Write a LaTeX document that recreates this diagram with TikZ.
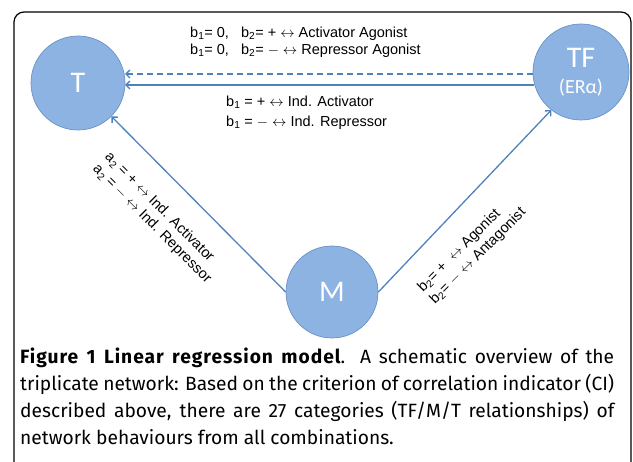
\documentclass[tikz,border=0pt]{standalone}
\usepackage{fontspec}
\setmainfont{Liberation Sans}
\newfontfamily\capfont{Fira Sans}
\newfontfamily\circfont{Carlito}
\usetikzlibrary{arrows.meta}
\definecolor{cfill}{HTML}{8DB3E2}
\definecolor{cdraw}{HTML}{6A92C8}
\definecolor{lblue}{HTML}{4F81BD}
\tikzset{
  circnode/.style={circle,fill=cfill,draw=cdraw,line width=0.7pt,minimum size=#1,inner sep=0pt,text=white,font=\circfont\fontsize{30}{30}\selectfont},
  conn/.style={draw=lblue,line width=1.3pt,-{Straight Barb[length=4pt,width=8pt]}},
  lbl/.style={font=\fontsize{14.5}{17}\selectfont,align=left,inner sep=0pt},
}
\begin{document}
\begin{tikzpicture}[x=1pt,y=-1pt]
\useasboundingbox (0,0) rectangle (633,462);
\begin{scope}
\clip (0,0) rectangle (633,462);
\draw[line width=1.2pt,rounded corners=10pt] (14,480) -- (14,12) -- (631,12) -- (631,480);
\end{scope}
\node[circnode=94pt] (T) at (78,83) {T};
\node[circnode=96pt,align=center] (TF) at (581,72) {TF\\[-4pt]{\fontsize{20}{22}\selectfont(ERα)}};
\node[circnode=92pt] (M) at (332,292) {M};
\coordinate (tfd) at (533,74);
\coordinate (td) at (125,74);
\coordinate (tfs) at (534,85);
\coordinate (ts) at (125,85);
\draw[conn,dashed,dash pattern=on 6pt off 4pt] (tfd) -- (td);
\draw[conn] (tfs) -- (ts);
\draw[conn] (M.west) -- (T.-45);
\draw[conn] (M.east) -- (TF.-128);
\node[lbl,anchor=west] (top) at (190,42) {b\textsubscript{1}= 0,\ \ \ b\textsubscript{2}= + \(\leftrightarrow\) Activator Agonist\\b\textsubscript{1}= 0,\ \ \ b\textsubscript{2}= \(-\) \(\leftrightarrow\) Repressor Agonist};
\node[lbl,anchor=west,font=\fontsize{14.5}{20}\selectfont] (mid) at (226,113) {b\textsubscript{1} = + \(\leftrightarrow\) Ind. Activator\\b\textsubscript{1} = \(-\) \(\leftrightarrow\) Ind. Repressor};
\node[lbl,rotate=-45] (left) at (158,218) {a\textsubscript{2} = + \(\leftrightarrow\) Ind. Activator\\a\textsubscript{2} = \(-\) \(\leftrightarrow\) Ind. Repressor};
\node[lbl,rotate=45] (right) at (472,250) {b\textsubscript{2}= +\ \ \(\leftrightarrow\) Agonist\\b\textsubscript{2}= \(-\) \(\leftrightarrow\) Antagonist};
\node[anchor=north west,inner sep=0pt,text width=594pt,align=justify,font=\capfont\fontsize{19.2}{27}\selectfont] (cap) at (20,348) {{\bfseries\addfontfeature{LetterSpace=5}Figure 1 Linear regression model}. A schematic overview of the\linebreak triplicate network: Based on the criterion of correlation indicator (CI)\linebreak described above, there are 27 categories (TF/M/T relationships) of\linebreak network behaviours from all combinations.};
\end{tikzpicture}
\end{document}
